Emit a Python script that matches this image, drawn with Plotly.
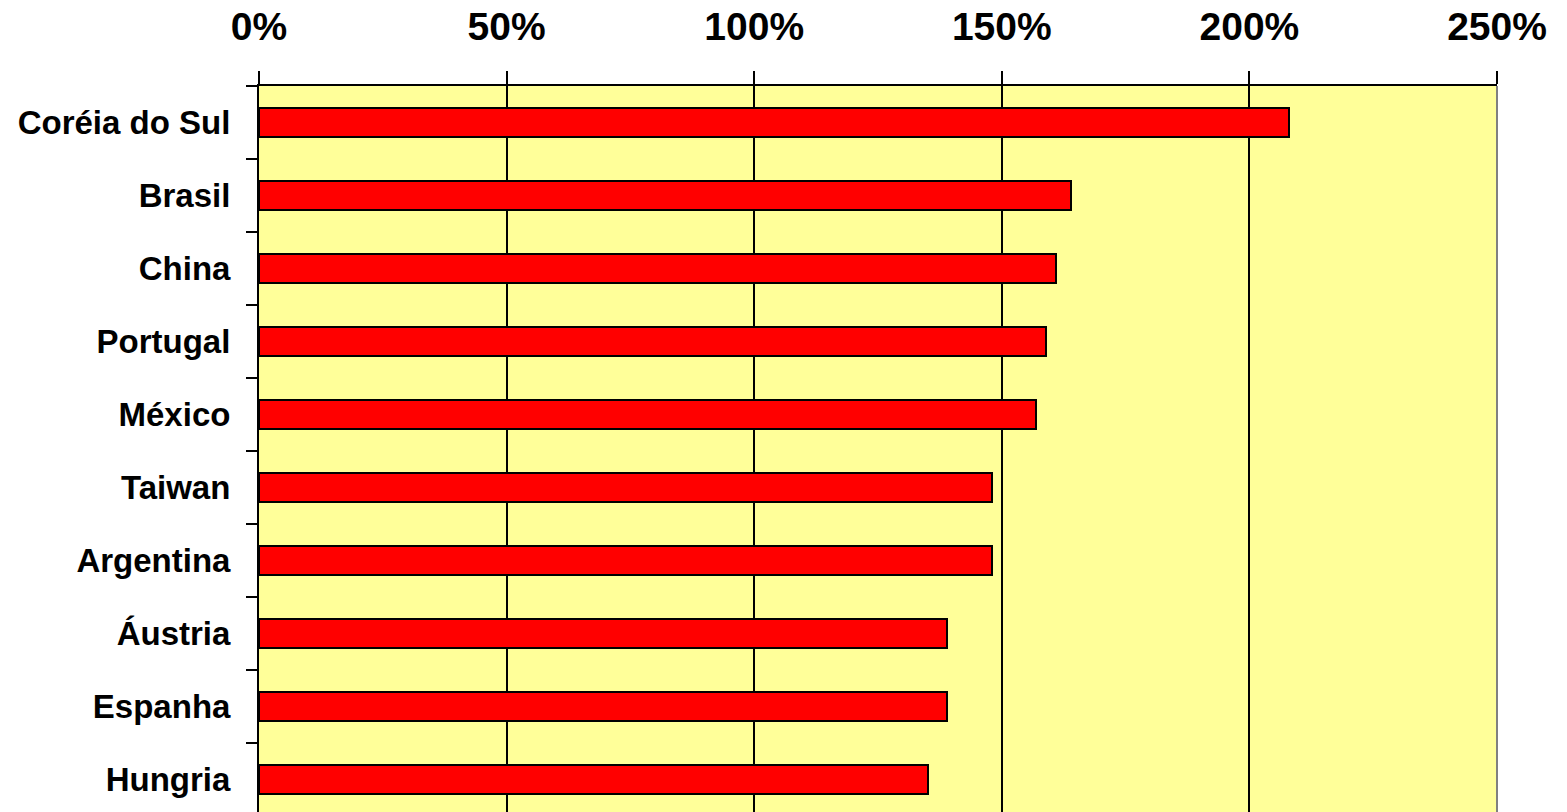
import plotly.graph_objects as go

countries = ["Coréia do Sul", "Brasil", "China", "Portugal", "México",
             "Taiwan", "Argentina", "Áustria", "Espanha", "Hungria"]
values = [208, 164, 161, 159, 157, 148, 148, 139, 139, 135]
x_ticks = [0, 50, 100, 150, 200, 250]
x_tick_labels = ["0%", "50%", "100%", "150%", "200%", "250%"]

fig = go.Figure()
fig.add_trace(go.Bar(
    x=values, y=countries, orientation="h", width=0.41,
    marker=dict(color="#FF0000", line=dict(color="black", width=2)),
))

fig.update_layout(
    width=1567, height=812,
    margin=dict(l=259, r=70, t=86, b=0, pad=0),
    paper_bgcolor="white", plot_bgcolor="#FFFF99",
    showlegend=False, bargap=0,
    font=dict(family="Liberation Sans, Arial", color="black"),
)
fig.update_xaxes(
    side="top", range=[0, 250], tickvals=x_ticks, ticktext=x_tick_labels,
    ticks="outside", ticklen=13, tickwidth=2, tickcolor="black",
    showline=True, linecolor="black", linewidth=2,
    showgrid=True, gridcolor="black", gridwidth=2, zeroline=False,
    tickfont=dict(size=39, weight="bold", color="black"),
    ticklabelstandoff=15,
    fixedrange=True,
)
fig.update_yaxes(
    range=[9.445, -0.5], type="category", categoryorder="array", categoryarray=countries,
    ticks="outside", tickson="boundaries", ticklen=11, tickwidth=2, tickcolor="black",
    showline=True, linecolor="black", linewidth=2, showgrid=False,
    tickfont=dict(size=33, weight="bold", color="black"),
    ticklabelstandoff=20,
    fixedrange=True,
)
fig.add_shape(type="line", xref="paper", yref="paper", x0=1, x1=1, y0=0, y1=1,
              line=dict(color="#808080", width=2))

fig.write_html("out.html", config={"displayModeBar": False})
